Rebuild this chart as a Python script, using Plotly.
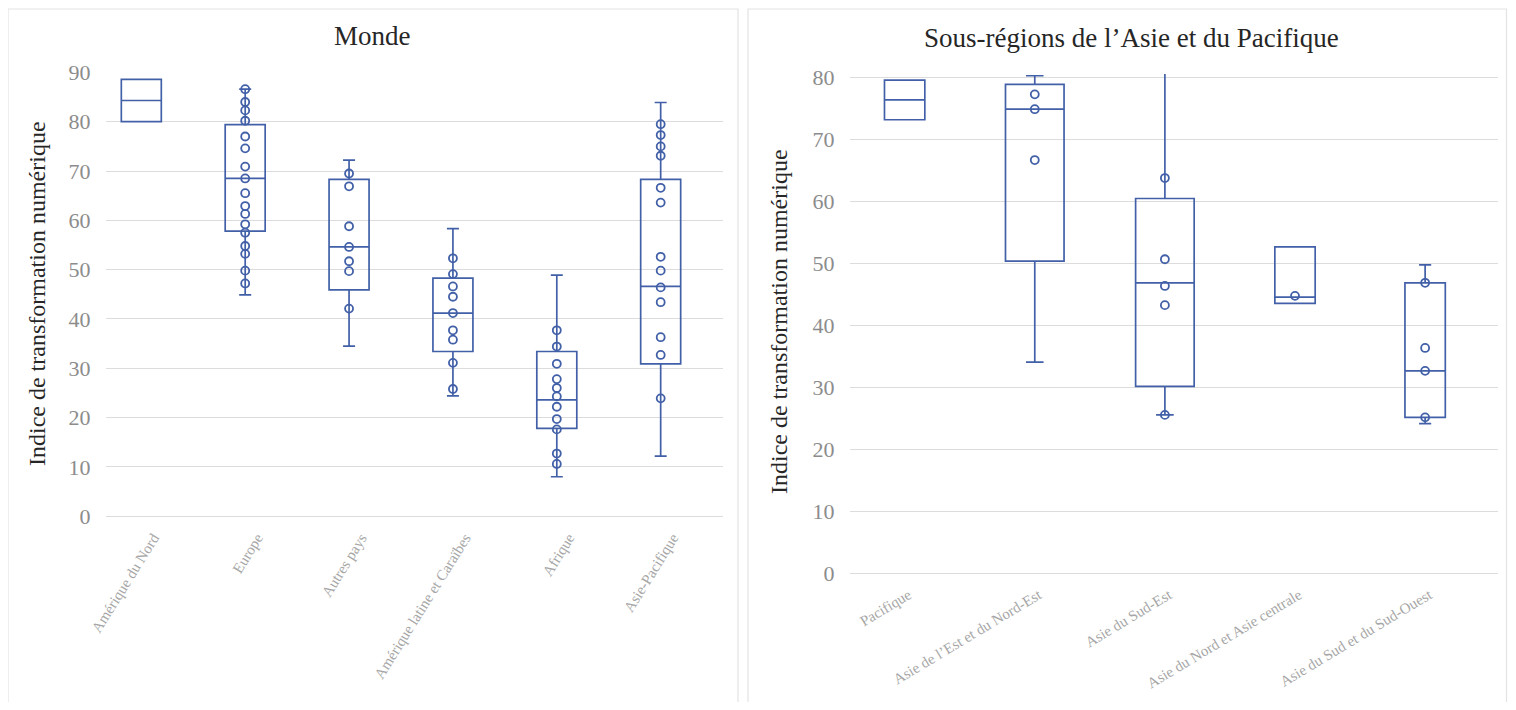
import plotly.graph_objects as go

# ---------------- Data: Monde ----------------
monde_cats = ["Amérique du Nord", "Europe", "Autres pays",
              "Amérique latine et Caraïbes", "Afrique", "Asie-Pacifique"]
monde_low = [80.0, 44.9, 34.5, 24.4, 8.0, 12.2]
monde_q1 = [80.0, 57.8, 45.9, 33.4, 17.8, 30.9]
monde_med = [84.3, 68.5, 54.6, 41.2, 23.6, 46.6]
monde_q3 = [88.6, 79.4, 68.3, 48.3, 33.4, 68.3]
monde_high = [88.6, 86.6, 72.2, 58.3, 48.9, 83.9]
monde_pts = [
    [],
    [86.6, 84.0, 82.3, 80.2, 77.0, 74.6, 70.9, 68.5, 65.5, 62.9, 61.3,
     59.2, 57.5, 54.8, 53.2, 49.8, 47.2],
    [69.5, 66.9, 58.8, 54.6, 51.7, 49.7, 42.1],
    [52.3, 49.1, 46.6, 44.5, 41.2, 37.7, 35.8, 31.1, 25.8],
    [37.7, 34.4, 30.9, 27.8, 26.0, 24.3, 22.2, 19.7, 17.6, 12.7, 10.6],
    [79.5, 77.3, 75.0, 73.1, 66.6, 63.6, 52.6, 49.8, 46.4, 43.4, 36.3,
     32.7, 23.9],
]
monde_ticks = [0, 10, 20, 30, 40, 50, 60, 70, 80, 90]

# ---------------- Data: Asie-Pacifique ----------------
ap_cats = ["Pacifique", "Asie de l’Est et du Nord-Est", "Asie du Sud-Est",
           "Asie du Nord et Asie centrale", "Asie du Sud et du Sud-Ouest"]
ap_low = [73.2, 34.1, 25.6, 43.6, 24.2]
ap_q1 = [73.2, 50.4, 30.2, 43.6, 25.2]
ap_med = [76.4, 74.9, 46.9, 44.6, 32.7]
ap_q3 = [79.6, 78.9, 60.5, 52.7, 46.9]
ap_high = [79.6, 80.3, 84.0, 52.7, 49.8]
ap_pts = [
    [],
    [77.3, 74.9, 66.7],
    [63.8, 50.7, 46.4, 43.3, 25.6],
    [44.8],
    [46.9, 36.4, 32.7, 25.2],
]
ap_ticks = [0, 10, 20, 30, 40, 50, 60, 70, 80]

# ---------------- Styles ----------------
OFF = 8                      # page body margin
W, H = 1516 - 2 * OFF, 710 - 2 * OFF
BLUE = "#4260A8"
GRID = "#DCDCDC"
SERIF = "Liberation Serif, Times New Roman, serif"
monde_widths = [0.385] * 6
ap_widths = [0.31, 0.45, 0.45, 0.31, 0.31]


def px_x(p):
    return min(max((p - OFF) / W, 0), 0.999)


def px_y(p):
    return 1 - (p - OFF) / H


fig = go.Figure()


def add_panel(cats, low, q1, med, q3, high, pts, widths, xa, ya):
    for i, c in enumerate(cats):
        fig.add_trace(go.Box(
            x=[c], q1=[q1[i]], median=[med[i]], q3=[q3[i]],
            lowerfence=[low[i]], upperfence=[high[i]],
            width=widths[i], whiskerwidth=0.3,
            line=dict(color=BLUE, width=1.7),
            fillcolor="rgba(0,0,0,0)",
            boxpoints=False, showlegend=False, hoverinfo="skip",
            xaxis=xa, yaxis=ya,
        ))
        if pts[i]:
            fig.add_trace(go.Scatter(
                x=[c] * len(pts[i]), y=pts[i], mode="markers",
                marker=dict(symbol="circle-open", size=8,
                            color=BLUE, line=dict(color=BLUE, width=1.8)),
                showlegend=False, hoverinfo="skip",
                xaxis=xa, yaxis=ya, cliponaxis=False,
            ))


add_panel(monde_cats, monde_low, monde_q1, monde_med, monde_q3, monde_high,
          monde_pts, monde_widths, "x", "y")
add_panel(ap_cats, ap_low, ap_q1, ap_med, ap_q3, ap_high,
          ap_pts, ap_widths, "x2", "y2")

# Left axis geometry (target pixels)
L_x0, L_x1 = 106, 723
L_y0 = 516.2
L_unit = 4.931
L_top = 90
# Right axis geometry
R_x0, R_x1 = 850, 1498
R_y0 = 573.6
R_unit = 6.2
R_top = 80.6

xaxis_common = dict(
    type="category", showgrid=False, zeroline=False, showline=False,
    automargin=False,
    tickangle=-58, ticks="outside", ticklen=6, tickcolor="rgba(0,0,0,0)",
    tickfont=dict(family=SERIF, size=15, color="#A6A6A6"),
)
yaxis_common = dict(
    showgrid=True, gridcolor=GRID, gridwidth=1, zeroline=True,
    zerolinecolor=GRID, zerolinewidth=1.2, showline=False,
    automargin=False,
    ticks="outside", ticklen=10, tickcolor="rgba(0,0,0,0)",
    tickfont=dict(family=SERIF, size=22, color="#8C8C8C"),
)

fig.update_layout(
    template="none",
    width=W, height=H,
    margin=dict(l=0, r=0, t=0, b=0, pad=0),
    paper_bgcolor="white", plot_bgcolor="white",
    boxmode="overlay",
    xaxis=dict(xaxis_common, domain=[px_x(L_x0), px_x(L_x1)],
               range=[-0.34, 5.6], anchor="y", ticklabelshift=12),
    yaxis=dict(yaxis_common, domain=[px_y(L_y0), px_y(L_y0 - L_top * L_unit)],
               range=[0, L_top], tickvals=monde_ticks, anchor="x"),
    xaxis2=dict(xaxis_common, domain=[px_x(R_x0), px_x(R_x1)],
                range=[-0.42, 4.56], anchor="y2", tickangle=-31,
                ticklabelshift=4),
    yaxis2=dict(yaxis_common, domain=[px_y(R_y0), px_y(R_y0 - R_top * R_unit)],
                range=[0, R_top], tickvals=ap_ticks, anchor="x2"),
)

# Panel borders
for x0, x1 in [(5, 738), (748, 1511)]:
    fig.add_shape(type="rect", xref="paper", yref="paper",
                  x0=px_x(x0), x1=px_x(x1), y0=-0.02, y1=px_y(9),
                  line=dict(color="#E3E3E3", width=1.2),
                  fillcolor="rgba(0,0,0,0)", layer="below")

# Titles
fig.add_annotation(text="Monde", xref="paper", yref="paper",
                   x=px_x(372), y=px_y(36), showarrow=False,
                   xanchor="center", yanchor="middle",
                   font=dict(family=SERIF, size=27, color="#262626"))
fig.add_annotation(text="Sous-régions de l’Asie et du Pacifique",
                   xref="paper", yref="paper",
                   x=px_x(1131), y=px_y(38), showarrow=False,
                   xanchor="center", yanchor="middle",
                   font=dict(family=SERIF, size=27, color="#262626"))
# Y-axis titles
fig.add_annotation(text="Indice de transformation numérique",
                   xref="paper", yref="paper", textangle=-90,
                   x=px_x(37), y=px_y(294), showarrow=False,
                   xanchor="center", yanchor="middle",
                   font=dict(family=SERIF, size=24, color="#262626"))
fig.add_annotation(text="Indice de transformation numérique",
                   xref="paper", yref="paper", textangle=-90,
                   x=px_x(779), y=px_y(322), showarrow=False,
                   xanchor="center", yanchor="middle",
                   font=dict(family=SERIF, size=24, color="#262626"))

fig.write_html("out.html", config={"displayModeBar": False})
